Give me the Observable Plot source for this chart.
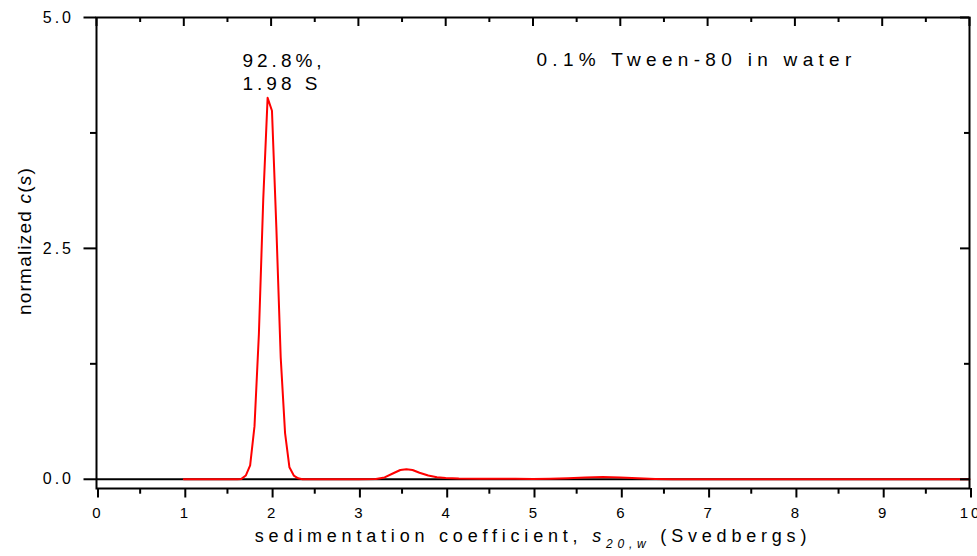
<!DOCTYPE html>
<html><head><meta charset="utf-8">
<script src="https://cdn.jsdelivr.net/npm/d3@7"></script>
<script src="https://cdn.jsdelivr.net/npm/@observablehq/plot@0.6"></script>
<style>
body{margin:0;background:#fff;}
g[aria-label="x-axis tick label"] text, g[aria-label="y-axis tick label"] text {letter-spacing: 3px;}
</style></head><body><div id="chart"></div>
<script>
// sedimentation coefficient (S) and normalized c(s)
const sValues = [1.0, 1.5, 1.61, 1.66, 1.71, 1.76, 1.81, 1.86, 1.91, 1.96, 2.01, 2.06, 2.11, 2.16, 2.21, 2.26, 2.31, 2.36, 2.5,
  3.0, 3.2, 3.3, 3.4, 3.48, 3.55, 3.62, 3.7, 3.8, 3.9, 4.0, 4.15, 4.4, 4.8, 5.0, 5.2, 5.4, 5.6, 5.8, 6.0, 6.2, 6.4, 6.6, 7.0, 8.0, 9.0, 10.0];
const cValues = [0, 0, 0, 0.004, 0.04, 0.15, 0.575, 1.57, 3.03, 4.13, 3.99, 2.73, 1.32, 0.5, 0.13, 0.04, 0.01, 0, 0,
  0, 0.003, 0.02, 0.065, 0.10, 0.109, 0.10, 0.07, 0.04, 0.022, 0.014, 0.008, 0.006, 0.005, 0.004, 0.006, 0.012, 0.019, 0.024, 0.02, 0.011, 0.004, 0.001, 0, 0, 0, 0];

const xTicks = [0, 1, 2, 3, 4, 5, 6, 7, 8, 9, 10];
const xTickLabels = ["0", "1", "2", "3", "4", "5", "6", "7", "8", "9", "10"];
const xMinorTicks = [0.5, 1.5, 2.5, 3.5, 4.5, 5.5, 6.5, 7.5, 8.5, 9.5];
const yTicks = [0, 2.5, 5];
const yTickLabels = ["0.0", "2.5", "5.0"];
const yMinorTicks = [1.25, 3.75];

const peakNote = {s: 1.672, c: 4.218, text: "92.8%,\n1.98 S"};
const sampleNote = {s: 5.04, c: 4.47, text: "0.1% Tween-80 in water"};
const xLabel = "sedimentation coefficient, s20,w (Svedbergs)";
const yLabel = "normalized c(s)";

const data = sValues.map((s, i) => ({s, c: cValues[i]}));

const W = 977, H = 556, mL = 96, mR = 8, mT = 17, mB = 68;
const iw = W - mL - mR, ih = H - mT - mB;

const chart = Plot.plot({
  width: W, height: H,
  marginLeft: mL, marginRight: mR, marginTop: mT, marginBottom: mB,
  x: {domain: [0, 10]},
  y: {domain: [-0.1, 5]},
  style: {fontFamily: "'Liberation Sans', Arial, sans-serif", background: "#fff", color: "#000"},
  marks: [
    Plot.ruleY([0], {stroke: "#000", strokeWidth: 2}),
    Plot.line(data, {x: "s", y: "c", stroke: "#ff0000", strokeWidth: 2}),
    Plot.frame({stroke: "#000", strokeWidth: 2}),
    Plot.axisX({ticks: xTicks, tickSize: 9.5, tickPadding: 9, strokeWidth: 2, fontSize: 15, dx: 1.5, label: null,
      tickFormat: d => xTickLabels[xTicks.indexOf(d)]}),
    Plot.axisY({ticks: yTicks, tickSize: 12.5, tickPadding: 10, strokeWidth: 2, fontSize: 16, label: null,
      tickFormat: d => yTickLabels[yTicks.indexOf(d)]}),
    Plot.tickX(xMinorTicks, {x: d => d, insetTop: ih, insetBottom: -5.7, stroke: "#000", strokeWidth: 2}),
    Plot.tickY(yMinorTicks, {y: d => d, insetRight: iw, insetLeft: -6, stroke: "#000", strokeWidth: 2}),
    Plot.tickX(xTicks, {x: d => d, insetBottom: ih - 9, stroke: "#000", strokeWidth: 2}),
    Plot.tickX(xMinorTicks, {x: d => d, insetBottom: ih - 5, stroke: "#000", strokeWidth: 2}),
    Plot.tickY(yTicks, {y: d => d, insetLeft: iw - 9, stroke: "#000", strokeWidth: 2}),
    Plot.tickY(yMinorTicks, {y: d => d, insetLeft: iw - 5, stroke: "#000", strokeWidth: 2}),
    Plot.text([peakNote], {x: "s", y: "c", text: "text", textAnchor: "start", lineAnchor: "bottom", lineHeight: 1.2, fontSize: 19, fill: "#000"}),
    Plot.text([sampleNote], {x: "s", y: "c", text: "text", textAnchor: "start", lineAnchor: "bottom", fontSize: 19, fill: "#000"}),
    Plot.text([xLabel], {frameAnchor: "bottom", dy: 53.7, text: d => d, textAnchor: "middle", lineAnchor: "bottom", fontSize: 18, fill: "#000"}),
    Plot.text([yLabel], {frameAnchor: "left", dx: -66, dy: -12, rotate: -90, text: d => d, textAnchor: "middle", lineAnchor: "bottom", fontSize: 19, fill: "#000"})
  ]
});
document.getElementById("chart").appendChild(chart);

const svg = d3.select(chart);
const textGroups = svg.selectAll('g[aria-label="text"]').nodes();
d3.select(textGroups[0]).style("letter-spacing", "4px");
d3.select(textGroups[1]).style("letter-spacing", "5.3px");
// x label with subscript
const xl = d3.select(textGroups[2]).style("letter-spacing", "4.8px").select("text");
xl.text(null);
xl.append("tspan").text("sedimentation coefficient, ");
xl.append("tspan").attr("font-style", "italic").text("s");
xl.append("tspan").attr("font-style", "italic").attr("font-size", 12).attr("dy", 6).text("20,w");
xl.append("tspan").attr("dy", -6).text(" (Svedbergs)");
// y label with italic c(s)
const yl = d3.select(textGroups[3]).style("letter-spacing", "1.2px").select("text");
yl.text(null);
yl.append("tspan").text("normalized ");
yl.append("tspan").attr("font-style", "italic").text("c");
yl.append("tspan").text("(");
yl.append("tspan").attr("font-style", "italic").text("s");
yl.append("tspan").text(")");
</script></body></html>
